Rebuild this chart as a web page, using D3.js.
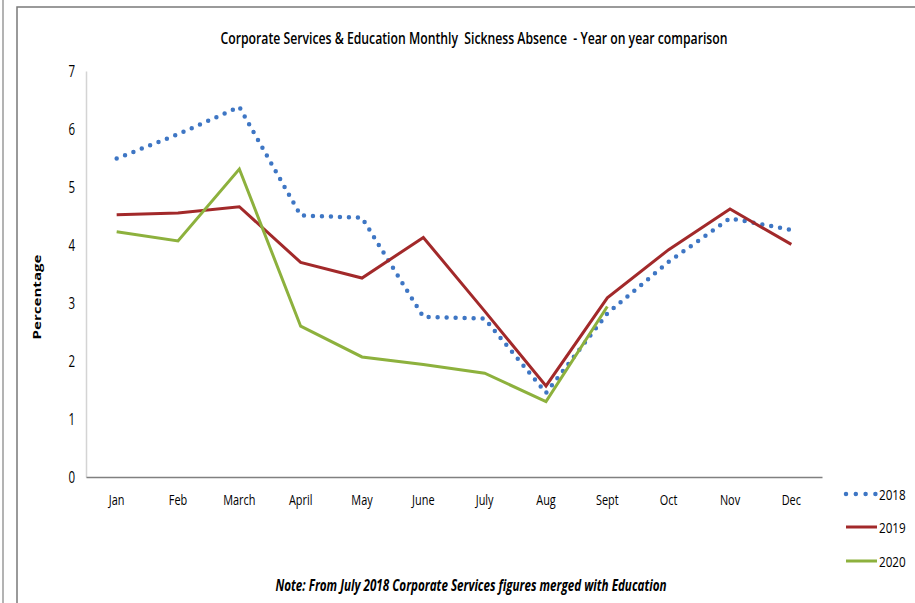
<!DOCTYPE html>
<html>
<head>
<meta charset="utf-8">
<script src="https://cdn.jsdelivr.net/npm/d3@7"></script>
<style>
  html, body { margin: 0; padding: 0; background: #fff; }
  svg { display: block; }
  text { font-family: "Liberation Sans Narrow", "Open Sans", sans-serif; fill: #000; }
</style>
</head>
<body>
<svg id="chart" width="915" height="603"></svg>
<script>
const months = ["Jan","Feb","March","April","May","June","July","Aug","Sept","Oct","Nov","Dec"];
const values2018 = [5.49, 5.91, 6.38, 4.51, 4.47, 2.76, 2.73, 1.45, 2.82, 3.71, 4.46, 4.26];
const values2019 = [4.52, 4.55, 4.66, 3.70, 3.43, 4.13, 2.86, 1.57, 3.09, 3.92, 4.62, 4.01];
const values2020 = [4.23, 4.07, 5.31, 2.60, 2.07, 1.94, 1.79, 1.30, 2.94, null, null, null];
const yTicks = [0, 1, 2, 3, 4, 5, 6, 7];
const seriesNames = ["2018", "2019", "2020"];

const titleText = "Corporate Services & Education Monthly  Sickness Absence  - Year on year comparison";
const yLabel = "Percentage";
const noteText = "Note: From July 2018 Corporate Services figures merged with Education";

const colors = {"2018": "#3E76C4", "2019": "#A2292A", "2020": "#8DB13D"};
const series = [
  {name: "2018", values: values2018},
  {name: "2019", values: values2019},
  {name: "2020", values: values2020}
];

const svg = d3.select("#chart");

// condense text horizontally (narrow font look)
function condense(sel, sx) {
  sel.each(function() {
    const t = d3.select(this);
    const xv = +(t.attr("x") || 0);
    t.attr("x", xv / sx).attr("transform", `scale(${sx},1)`);
  });
}

// outer frame
svg.append("line").attr("x1", 3).attr("x2", 3).attr("y1", 0).attr("y2", 603)
  .attr("stroke", "#9a9a9a").attr("stroke-width", 1.5);
svg.append("rect").attr("x", 17).attr("y", 7).attr("width", 910).attr("height", 610)
  .attr("fill", "none").attr("stroke", "#7a7a7a").attr("stroke-width", 1.5);

const x = d3.scaleBand().domain(months).range([86, 822]);
const y = d3.scaleLinear().domain([0, 7]).range([477, 71]);
const cx = m => x(m) + x.bandwidth() / 2;

// y axis
const yAxis = svg.append("g").attr("transform", "translate(86,0)")
  .call(d3.axisLeft(y).tickValues(yTicks).tickFormat(d3.format("d")).tickSize(0).tickPadding(11));
yAxis.select(".domain").attr("stroke", "#d4d4d4").attr("stroke-width", 1.5);
yAxis.selectAll("text").attr("font-size", 16).attr("font-family", "'Open Sans', sans-serif").attr("fill", "#222");
condense(yAxis.selectAll("text"), 0.72);

// x axis
const xAxis = svg.append("g").attr("transform", "translate(0,477)")
  .call(d3.axisBottom(x).tickSize(0).tickSizeOuter(0).tickPadding(18));
xAxis.select(".domain").attr("stroke", "#808080").attr("stroke-width", 1.5);
xAxis.selectAll("text").attr("font-size", 14).attr("font-family", "'Open Sans', sans-serif").attr("fill", "#222");
condense(xAxis.selectAll("text"), 0.78);

// lines
const line = d3.line()
  .defined(d => d.v !== null)
  .x(d => cx(d.m))
  .y(d => y(d.v));

series.forEach(s => {
  const data = months.map((m, i) => ({m: m, v: s.values[i]}));
  const p = svg.append("path").datum(data)
    .attr("fill", "none")
    .attr("stroke", colors[s.name])
    .attr("d", line);
  if (s.name === "2018") {
    p.attr("stroke-width", 4.5).attr("stroke-linecap", "round").attr("stroke-dasharray", "0 9");
  } else {
    p.attr("stroke-width", 3).attr("stroke-linejoin", "miter");
  }
});

// title
svg.append("text").attr("x", 474).attr("y", 44).attr("text-anchor", "middle")
  .attr("font-size", 16.5).attr("font-weight", 600).attr("fill", "#111")
  .style("white-space", "pre")
  .attr("textLength", 507).attr("lengthAdjust", "spacingAndGlyphs")
  .text(titleText);

// y label
svg.append("text").attr("transform", "translate(41,297) rotate(-90)")
  .attr("text-anchor", "middle").attr("font-size", 11).attr("font-weight", "bold")
  .attr("font-family", "'DejaVu Sans', Verdana, sans-serif")
  .attr("textLength", 85).attr("lengthAdjust", "spacingAndGlyphs")
  .text(yLabel);

// legend
const legendY = [494, 527, 561];
seriesNames.forEach((n, i) => {
  const g = svg.append("g");
  const l = g.append("line").attr("x1", 846).attr("x2", 876)
    .attr("y1", legendY[i]).attr("y2", legendY[i]).attr("stroke", colors[n]);
  if (n === "2018") {
    l.attr("stroke-width", 4.5).attr("stroke-linecap", "round").attr("stroke-dasharray", "0 9.8");
  } else {
    l.attr("x1", 846).attr("x2", 877).attr("stroke-width", 3);
  }
  const t = g.append("text").attr("x", 879).attr("y", legendY[i] + 6)
    .attr("font-size", 15).attr("fill", "#222").attr("font-family", "'Open Sans', sans-serif").text(n);
  condense(t, 0.78);
});

// note
svg.append("text").attr("x", 471).attr("y", 591).attr("text-anchor", "middle")
  .attr("font-size", 16).attr("font-weight", "bold").attr("font-style", "italic")
  .attr("textLength", 391).attr("lengthAdjust", "spacingAndGlyphs")
  .text(noteText);
</script>
</body>
</html>
